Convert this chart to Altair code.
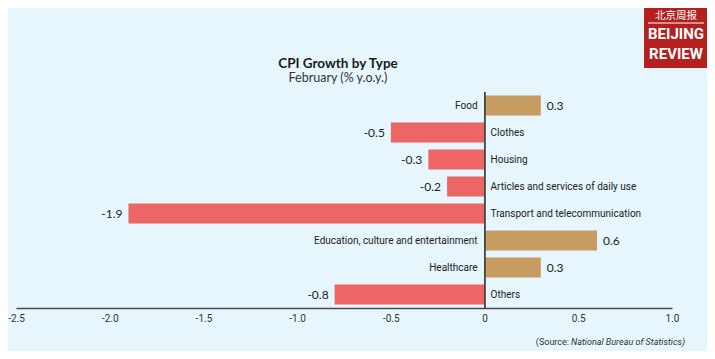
import altair as alt
import pandas as pd

categories = ["Food", "Clothes", "Housing", "Articles and services of daily use",
              "Transport and telecommunication", "Education, culture and entertainment",
              "Healthcare", "Others"]
values = [0.3, -0.5, -0.3, -0.2, -1.9, 0.6, 0.3, -0.8]
tick_values = [-2.5, -2.0, -1.5, -1.0, -0.5, 0.0, 0.5, 1.0]
title_text = "CPI Growth by Type"
subtitle_text = "February (% y.o.y.)"
source_prefix = "(Source:"
source_main = "National Bureau of Statistics)"

BG = "#E7F5FC"
RED = "#EC6666"
TAN = "#C69C60"
LOGO = "#B4201E"
CAT_FONT = "Roboto, sans-serif"
VAL_FONT = "Lato, Open Sans, sans-serif"

df = pd.DataFrame({
    "cat": categories,
    "value": values,
    "label": [f"{v:.1f}" for v in values],
    "sign": ["pos" if v >= 0 else "neg" for v in values],
})

W, H = 656, 216

xscale = alt.Scale(domain=[-2.5, 1.0], nice=False, zero=False)
yscale = alt.Scale(domain=categories, paddingInner=0.26, paddingOuter=0.13)

base = alt.Chart(df)

bars = base.mark_bar().encode(
    x=alt.X("value:Q", scale=xscale,
            axis=alt.Axis(values=tick_values, title=None, grid=False, ticks=False,
                          domainColor="#4a4a4a", domainWidth=1.5,
                          labelExpr="datum.value == 0 ? '0' : (datum.value < 0 ? '-' : '') + format(abs(datum.value), '.1f')",
                          labelFont=CAT_FONT, labelFontSize=10, labelColor="#333333",
                          labelPadding=5, labelFlush=False)),
    x2=alt.datum(0),
    y=alt.Y("cat:N", scale=yscale, axis=None, sort=categories),
    color=alt.Color("sign:N", scale=alt.Scale(domain=["pos", "neg"], range=[TAN, RED]), legend=None),
)

zero_line = base.mark_rule(color="#444444", strokeWidth=1.2).encode(
    x=alt.datum(0), y=alt.value(0), y2=alt.value(H)
)

cat_pos = base.transform_filter("datum.value >= 0").mark_text(
    align="right", baseline="middle", dx=-7, font=CAT_FONT, fontSize=10, color="#222222"
).encode(x=alt.datum(0), y=alt.Y("cat:N", scale=yscale, sort=categories), text="cat:N")

cat_neg = base.transform_filter("datum.value < 0").mark_text(
    align="left", baseline="middle", dx=6, font=CAT_FONT, fontSize=10, color="#222222"
).encode(x=alt.datum(0), y=alt.Y("cat:N", scale=yscale, sort=categories), text="cat:N")

val_pos = base.transform_filter("datum.value >= 0").mark_text(
    align="left", baseline="middle", dx=6, font=VAL_FONT, fontSize=12, color="#222222"
).encode(x=alt.X("value:Q", scale=xscale), y=alt.Y("cat:N", scale=yscale, sort=categories), text="label:N")

val_neg = base.transform_filter("datum.value < 0").mark_text(
    align="right", baseline="middle", dx=-6, font=VAL_FONT, fontSize=12, color="#222222"
).encode(x=alt.X("value:Q", scale=xscale), y=alt.Y("cat:N", scale=yscale, sort=categories), text="label:N")

one = alt.Chart(pd.DataFrame({"t": [title_text]}))

title = one.mark_text(font="Lato, sans-serif", fontSize=13.5, fontWeight="bold",
                      color="#1a1a1a", align="center", baseline="middle").encode(
    x=alt.value(322), y=alt.value(-28), text=alt.value(title_text))
subtitle = one.mark_text(font="Lato, sans-serif", fontSize=12.5,
                         color="#333333", align="center", baseline="middle").encode(
    x=alt.value(322), y=alt.value(-14), text=alt.value(subtitle_text))

src1 = one.mark_text(font=CAT_FONT, fontSize=9, color="#333333", align="right",
                     baseline="middle").encode(
    x=alt.value(553), y=alt.value(250), text=alt.value(source_prefix))
src2 = one.mark_text(font=CAT_FONT, fontSize=9, fontStyle="italic", color="#333333",
                     align="right", baseline="middle").encode(
    x=alt.value(669), y=alt.value(250), text=alt.value(source_main))

logo_box = one.mark_rect(color=LOGO).encode(
    x=alt.value(628), x2=alt.value(692), y=alt.value(-95), y2=alt.value(-24))
logo_line = one.mark_rule(color="white", strokeWidth=1).encode(
    x=alt.value(632), x2=alt.value(688), y=alt.value(-69))
logo_cn = one.mark_text(font="Noto Sans CJK SC", fontSize=10.5, color="white",
                        align="center", baseline="middle").encode(
    x=alt.value(660), y=alt.value(-76), text=alt.value("北京周报"))
logo_b = one.mark_text(font="Roboto, sans-serif",
                       fontSize=15, fontWeight="bold", color="white",
                       align="center", baseline="middle").encode(
    x=alt.value(660), y=alt.value(-58), text=alt.value("BEIJING"))
logo_r = one.mark_text(font="Roboto, sans-serif",
                       fontSize=15, fontWeight="bold", color="white",
                       align="center", baseline="middle").encode(
    x=alt.value(660), y=alt.value(-38), text=alt.value("REVIEW"))

chart = alt.layer(
    bars, zero_line, cat_pos, cat_neg, val_pos, val_neg,
    title, subtitle, src1, src2, logo_box, logo_line, logo_cn, logo_b, logo_r
).properties(
    width=W, height=H,
    autosize=alt.AutoSizeParams(type="none"),
    padding={"left": 8, "top": 84, "right": 35, "bottom": 43},
    background=BG,
).configure_view(stroke=None)

chart.save("out.html", embed_options={"renderer": "svg", "actions": False})
